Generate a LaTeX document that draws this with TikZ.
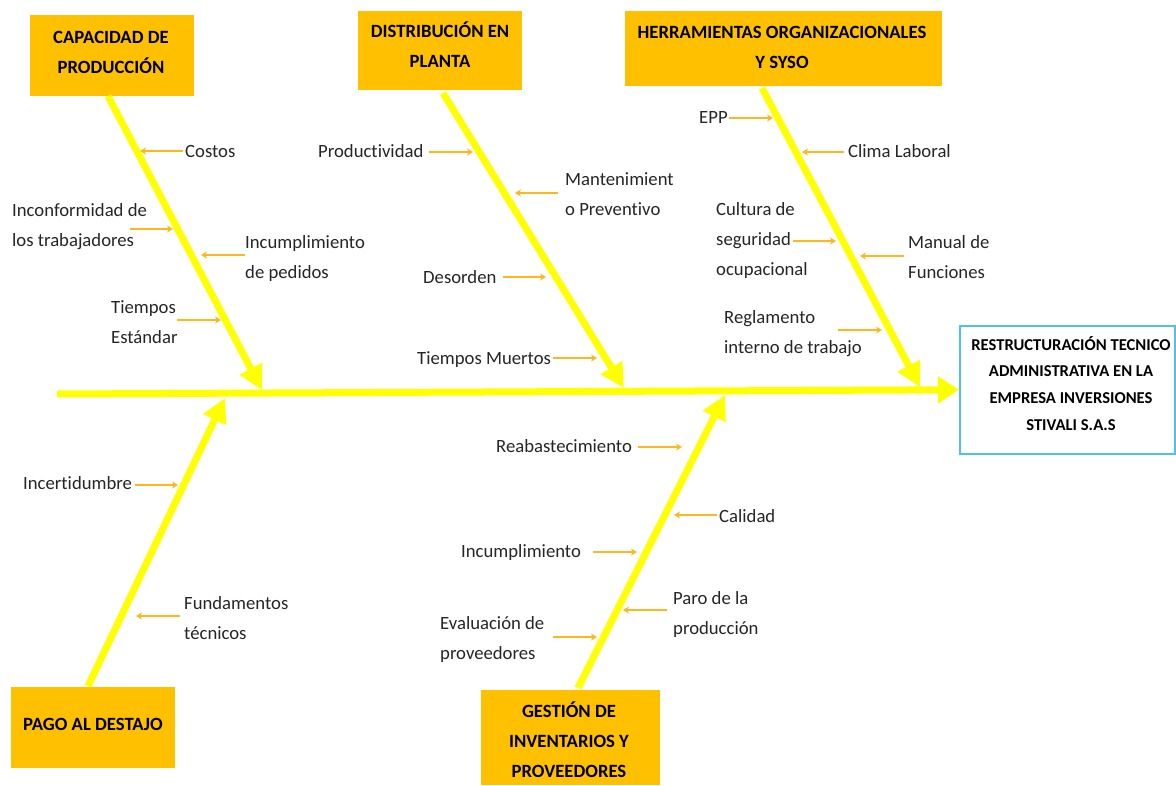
\documentclass[tikz,border=0pt]{standalone}
\usepackage{fontspec}
\setmainfont{Carlito}[Ligatures={NoCommon}]
\usetikzlibrary{arrows.meta}
\definecolor{hdrfill}{HTML}{FFC000}
\definecolor{bonecol}{HTML}{FFFF00}
\definecolor{twigcol}{HTML}{FFB81C}
\definecolor{resedge}{HTML}{4FC1F0}
\definecolor{inkcol}{HTML}{262626}
% left- and centre-aligned text blocks whose reference point is the first baseline
\newcommand{\lbl}[1]{\begin{tabular}[t]{@{}l@{}}#1\end{tabular}}
\newcommand{\clbl}[1]{\begin{tabular}[t]{@{}c@{}}#1\end{tabular}}

\begin{document}
\begin{tikzpicture}[x=1pt,y=-1pt,
  hdrbox/.style={fill=hdrfill, draw=none, anchor=north west, inner sep=0pt, outer sep=0pt},
  hdrtxt/.style={anchor=base, inner sep=0pt, text=black, font=\bfseries\fontsize{18.7}{30}\selectfont},
  resbox/.style={fill=white, draw=resedge, line width=1.5pt, anchor=north west, inner sep=0pt},
  restxt/.style={anchor=base, inner sep=0pt, text=black, font=\bfseries\fontsize{16.6}{26.7}\selectfont},
  cause/.style={anchor=base west, inner sep=0pt, text=inkcol, font=\fontsize{18.7}{30}\selectfont},
  spine/.style={draw=bonecol, line width=7pt, -{Triangle[length=21pt,width=26pt]}},
  bone/.style={draw=bonecol, line width=7pt, -{Triangle[length=24pt,width=24pt]}},
  twig/.style={draw=twigcol, line width=1.3pt, -{Stealth[length=6pt,width=7pt]}}
]
\useasboundingbox (0,0) rectangle (1176,785);
\fill[white] (0,0) rectangle (1176,785);

% ---- category boxes ----
\node[hdrbox, minimum width=164pt, minimum height=81pt] (cap) at (30,15) {};
\node[hdrtxt] (captxt) at (111,43) {\clbl{CAPACIDAD DE\\PRODUCCIÓN}};

\node[hdrbox, minimum width=164pt, minimum height=79pt] (dist) at (358,11) {};
\node[hdrtxt] (disttxt) at (440,37) {\clbl{DISTRIBUCIÓN EN\\PLANTA}};

\node[hdrbox, minimum width=317pt, minimum height=75pt] (herr) at (625,11) {};
\node[hdrtxt] (herrtxt) at (782,38) {\clbl{HERRAMIENTAS ORGANIZACIONALES\\Y SYSO}};

\node[hdrbox, minimum width=164pt, minimum height=81pt] (pago) at (11,687) {};
\node[hdrtxt] (pagotxt) at (93,730) {\clbl{PAGO AL DESTAJO}};

\node[hdrbox, minimum width=179pt, minimum height=95pt] (gest) at (481,690) {};
\node[hdrtxt] (gesttxt) at (569,717) {\clbl{GESTIÓN DE\\INVENTARIOS Y\\PROVEEDORES}};

% ---- effect box ----
\node[resbox, minimum width=215pt, minimum height=128pt] (res) at (959,325) {};
\node[restxt] (restxt) at (1071,350) {\clbl{RESTRUCTURACIÓN TECNICO\\ADMINISTRATIVA EN LA\\EMPRESA INVERSIONES\\STIVALI S.A.S}};

% ---- spine and main bones ----
\coordinate (spL) at (57,394);
\draw[spine] (spL) -- (res.west);

\coordinate (capS) at (108,96);   \coordinate (capE) at (262,390);
\coordinate (distS) at (443,93);  \coordinate (distE) at (624,388);
\coordinate (herrS) at (762,88);  \coordinate (herrE) at (920,387);
\coordinate (pagoS) at (88,686);  \coordinate (pagoE) at (225,398);
\coordinate (gestS) at (578,688); \coordinate (gestE) at (725,395);
\draw[bone] (capS) -- (capE);
\draw[bone] (distS) -- (distE);
\draw[bone] (herrS) -- (herrE);
\draw[bone] (pagoS) -- (pagoE);
\draw[bone] (gestS) -- (gestE);

% ---- causes: capacidad de producción ----
\node[cause] (c1) at (185,157) {Costos};
\node[cause] (c2) at (12,216) {\lbl{Inconformidad de\\los trabajadores}};
\node[cause] (c3) at (245,248) {\lbl{Incumplimiento\\de pedidos}};
\node[cause] (c4) at (111,313) {\lbl{Tiempos\\Estándar}};
\coordinate (c1a) at (183,151); \coordinate (c1b) at (140,151);
\coordinate (c2a) at (130,229); \coordinate (c2b) at (173,229);
\coordinate (c3a) at (245,255); \coordinate (c3b) at (201,255);
\coordinate (c4a) at (177,320); \coordinate (c4b) at (221,320);
\draw[twig] (c1a) -- (c1b);
\draw[twig] (c2a) -- (c2b);
\draw[twig] (c3a) -- (c3b);
\draw[twig] (c4a) -- (c4b);

% ---- causes: distribución en planta ----
\node[cause] (d1) at (318,157) {Productividad};
\node[cause] (d2) at (565,185) {\lbl{Mantenimient\\o Preventivo}};
\node[cause] (d3) at (423,283) {Desorden};
\node[cause] (d4) at (417,364) {Tiempos Muertos};
\coordinate (d1a) at (429,152); \coordinate (d1b) at (473,152);
\coordinate (d2a) at (558,193); \coordinate (d2b) at (515,193);
\coordinate (d3a) at (503,277); \coordinate (d3b) at (546,277);
\coordinate (d4a) at (553,358); \coordinate (d4b) at (597,358);
\draw[twig] (d1a) -- (d1b);
\draw[twig] (d2a) -- (d2b);
\draw[twig] (d3a) -- (d3b);
\draw[twig] (d4a) -- (d4b);

% ---- causes: herramientas organizacionales y SYSO ----
\node[cause] (h1) at (699,123) {EPP};
\node[cause] (h2) at (848,157) {Clima Laboral};
\node[cause] (h3) at (716,215) {\lbl{Cultura de\\seguridad\\ocupacional}};
\node[cause] (h4) at (908,248) {\lbl{Manual de\\Funciones}};
\node[cause] (h5) at (724,323) {\lbl{Reglamento\\interno de trabajo}};
\coordinate (h1a) at (729,118); \coordinate (h1b) at (773,118);
\coordinate (h2a) at (844,152); \coordinate (h2b) at (802,152);
\coordinate (h3a) at (793,241); \coordinate (h3b) at (836,241);
\coordinate (h4a) at (904,256); \coordinate (h4b) at (860,256);
\coordinate (h5a) at (838,330); \coordinate (h5b) at (882,330);
\draw[twig] (h1a) -- (h1b);
\draw[twig] (h2a) -- (h2b);
\draw[twig] (h3a) -- (h3b);
\draw[twig] (h4a) -- (h4b);
\draw[twig] (h5a) -- (h5b);

% ---- causes: pago al destajo ----
\node[cause] (p1) at (23,489) {Incertidumbre};
\node[cause] (p2) at (184,609) {\lbl{Fundamentos\\técnicos}};
\coordinate (p1a) at (135,485); \coordinate (p1b) at (178,485);
\coordinate (p2a) at (180,616); \coordinate (p2b) at (136,616);
\draw[twig] (p1a) -- (p1b);
\draw[twig] (p2a) -- (p2b);

% ---- causes: gestión de inventarios y proveedores ----
\node[cause] (g1) at (496,452) {Reabastecimiento};
\node[cause] (g2) at (719,522) {Calidad};
\node[cause] (g3) at (461,557) {Incumplimiento};
\node[cause] (g4) at (673,604) {\lbl{Paro de la\\producción}};
\node[cause] (g5) at (440,629) {\lbl{Evaluación de\\proveedores}};
\coordinate (g1a) at (638,447); \coordinate (g1b) at (682,447);
\coordinate (g2a) at (717,515); \coordinate (g2b) at (674,515);
\coordinate (g3a) at (593,552); \coordinate (g3b) at (637,552);
\coordinate (g4a) at (667,610); \coordinate (g4b) at (623,610);
\coordinate (g5a) at (553,637); \coordinate (g5b) at (597,637);
\draw[twig] (g1a) -- (g1b);
\draw[twig] (g2a) -- (g2b);
\draw[twig] (g3a) -- (g3b);
\draw[twig] (g4a) -- (g4b);
\draw[twig] (g5a) -- (g5b);
\end{tikzpicture}
\end{document}
